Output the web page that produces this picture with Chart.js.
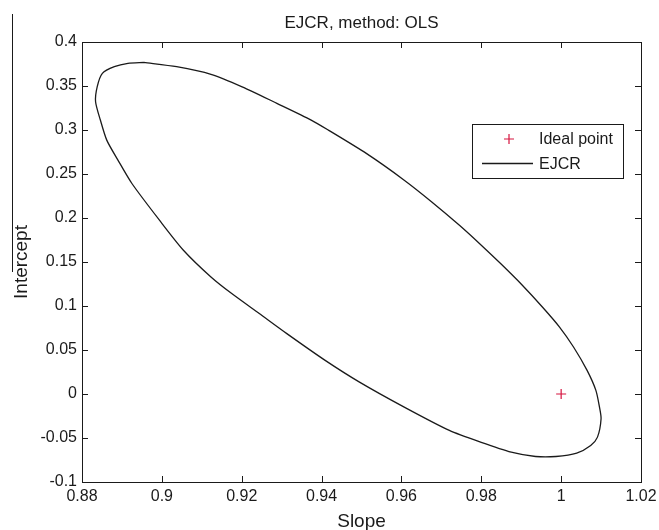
<!DOCTYPE html>
<html><head><meta charset="utf-8">
<script src="https://cdn.jsdelivr.net/npm/chart.js@4/dist/chart.umd.min.js"></script>
<style>html,body{margin:0;padding:0;background:#fff}#wrap{width:659px;height:530px}</style>
</head><body><div id="wrap"><canvas id="c" width="659" height="530"></canvas></div>
<script>
const chartTitle = 'EJCR, method: OLS';
const xAxisLabel = 'Slope';
const yAxisLabel = 'Intercept';
const seriesNames = ['Ideal point', 'EJCR'];
const idealSlope = [1];
const idealIntercept = [0];
const ejcrSlope = [0.8955, 0.9037, 0.9123, 0.9201, 0.9288, 0.9374, 0.9417, 0.9512, 0.9607, 0.9676, 0.9746, 0.9798, 0.9849, 0.9901, 0.9953, 0.9996, 1.0031, 1.0065, 1.0087, 1.0096, 1.0100, 1.0091, 1.0074, 1.0039, 0.9987, 0.9936, 0.9875, 0.9798, 0.9720, 0.9607, 0.9495, 0.9409, 0.9313, 0.9244, 0.9175, 0.9123, 0.9054, 0.8994, 0.8925, 0.8890, 0.8862, 0.8846, 0.8834, 0.8838, 0.8851, 0.8881, 0.8915, 0.8955];
const ejcrIntercept = [0.3768, 0.3719, 0.3633, 0.3491, 0.3303, 0.3113, 0.2999, 0.2734, 0.2430, 0.2183, 0.1915, 0.1700, 0.1480, 0.1245, 0.0989, 0.0761, 0.0534, 0.0268, 0.0041, -0.0149, -0.0281, -0.0490, -0.0585, -0.0672, -0.0710, -0.0710, -0.0661, -0.0547, -0.0414, -0.0149, 0.0135, 0.0382, 0.0686, 0.0914, 0.1141, 0.1330, 0.1634, 0.1975, 0.2392, 0.2658, 0.2885, 0.3113, 0.3321, 0.3491, 0.3644, 0.3719, 0.3757, 0.3768];
const xTicks = [0.88, 0.9, 0.92, 0.94, 0.96, 0.98, 1, 1.02];
const xTickLabels = ['0.88', '0.9', '0.92', '0.94', '0.96', '0.98', '1', '1.02'];
const yTicks = [-0.1, -0.05, 0, 0.05, 0.1, 0.15, 0.2, 0.25, 0.3, 0.35, 0.4];
const yTickLabels = ['-0.1', '-0.05', '0', '0.05', '0.1', '0.15', '0.2', '0.25', '0.3', '0.35', '0.4'];

const FONT = "'Liberation Sans', Arial, sans-serif";
const RED = '#d6143f';
const INK = '#1a1a1a';

const boxPlugin = {
  id: 'matlabBox',
  afterDraw(chart) {
    const ctx = chart.ctx, ca = chart.chartArea;
    const xs = chart.scales.x, ys = chart.scales.y;
    ctx.save();
    ctx.strokeStyle = INK;
    ctx.lineWidth = 1;
    ctx.strokeRect(Math.round(ca.left) + 0.5, Math.round(ca.top) + 0.5, Math.round(ca.right - ca.left), Math.round(ca.bottom - ca.top));
    const tl = 6;
    ctx.beginPath();
    xTicks.forEach(v => {
      const px = Math.round(xs.getPixelForValue(v)) + 0.5;
      ctx.moveTo(px, ca.bottom); ctx.lineTo(px, ca.bottom - tl);
      ctx.moveTo(px, ca.top); ctx.lineTo(px, ca.top + tl);
    });
    yTicks.forEach(v => {
      const py = Math.round(ys.getPixelForValue(v)) + 0.5;
      ctx.moveTo(ca.left, py); ctx.lineTo(ca.left + tl, py);
      ctx.moveTo(ca.right, py); ctx.lineTo(ca.right - tl, py);
    });
    ctx.stroke();
    // scan artifact line on the left edge
    ctx.beginPath();
    ctx.moveTo(12.5, 14); ctx.lineTo(12.5, 272);
    ctx.stroke();
    // legend box
    const bx = 472.5, by = 124.5, bw = 151, bh = 54;
    ctx.fillStyle = '#fff';
    ctx.fillRect(bx, by, bw, bh);
    ctx.strokeRect(bx, by, bw, bh);
    const ds0 = chart.data.datasets[0], ds1 = chart.data.datasets[1];
    ctx.strokeStyle = ds0.borderColor;
    ctx.lineWidth = ds0.borderWidth;
    ctx.beginPath();
    ctx.moveTo(504, 139); ctx.lineTo(514, 139);
    ctx.moveTo(509, 134); ctx.lineTo(509, 144);
    ctx.stroke();
    ctx.strokeStyle = ds1.borderColor;
    ctx.lineWidth = ds1.borderWidth;
    ctx.beginPath();
    ctx.moveTo(482, 163.5); ctx.lineTo(533, 163.5);
    ctx.stroke();
    ctx.fillStyle = INK;
    ctx.font = '16px ' + FONT;
    ctx.textAlign = 'left';
    ctx.textBaseline = 'middle';
    ctx.fillText(ds0.label, 539, 140);
    ctx.fillText(ds1.label, 539, 165);
    ctx.restore();
  }
};

new Chart(document.getElementById('c'), {
  type: 'scatter',
  data: {
    datasets: [
      {
        label: seriesNames[0],
        data: idealSlope.map((x, i) => ({x, y: idealIntercept[i]})),
        pointStyle: 'cross',
        pointRadius: 5,
        borderColor: RED,
        backgroundColor: RED,
        borderWidth: 1.2,
        showLine: false
      },
      {
        label: seriesNames[1],
        data: ejcrSlope.map((x, i) => ({x, y: ejcrIntercept[i]})),
        showLine: true,
        pointRadius: 0,
        borderColor: INK,
        backgroundColor: INK,
        borderWidth: 1.3,
        tension: 0.25,
        fill: false
      }
    ]
  },
  options: {
    responsive: false,
    devicePixelRatio: 1,
    animation: false,
    layout: {padding: {left: 0, right: 18, top: 0, bottom: 0}},
    plugins: {
      legend: {display: false},
      tooltip: {enabled: false},
      title: {
        display: true,
        text: chartTitle,
        fullSize: false,
        color: INK,
        font: {family: FONT, size: 17, weight: 'normal', lineHeight: 1.2},
        padding: {top: 13, bottom: 8.6}
      }
    },
    scales: {
      x: {
        type: 'linear',
        min: 0.88, max: 1.02,
        afterBuildTicks: s => { s.ticks = xTicks.map(v => ({value: v})); },
        afterFit: s => { s.height = 48; s.paddingLeft = 0; s.paddingRight = 0; },
        grid: {display: false, drawTicks: false},
        border: {display: false},
        ticks: {
          color: INK, padding: 5,
          font: {family: FONT, size: 16},
          maxRotation: 0, autoSkip: false,
          callback: v => xTickLabels[xTicks.indexOf(v)] ?? ''
        },
        title: {display: true, text: xAxisLabel, color: INK, font: {family: FONT, size: 19}, padding: {top: 0, bottom: -3}}
      },
      y: {
        type: 'linear',
        min: -0.1, max: 0.4,
        afterBuildTicks: s => { s.ticks = yTicks.map(v => ({value: v})); },
        afterFit: s => { s.width = 82; s.paddingTop = 0; s.paddingBottom = 0; },
        grid: {display: false, drawTicks: false},
        border: {display: false},
        ticks: {
          color: INK, padding: 5,
          font: {family: FONT, size: 16},
          autoSkip: false,
          callback: v => yTickLabels[yTicks.indexOf(v)] ?? ''
        },
        title: {display: true, text: yAxisLabel, color: INK, font: {family: FONT, size: 19}, padding: {top: 10, bottom: 0}}
      }
    }
  },
  plugins: [boxPlugin]
});
</script>
</body></html>
